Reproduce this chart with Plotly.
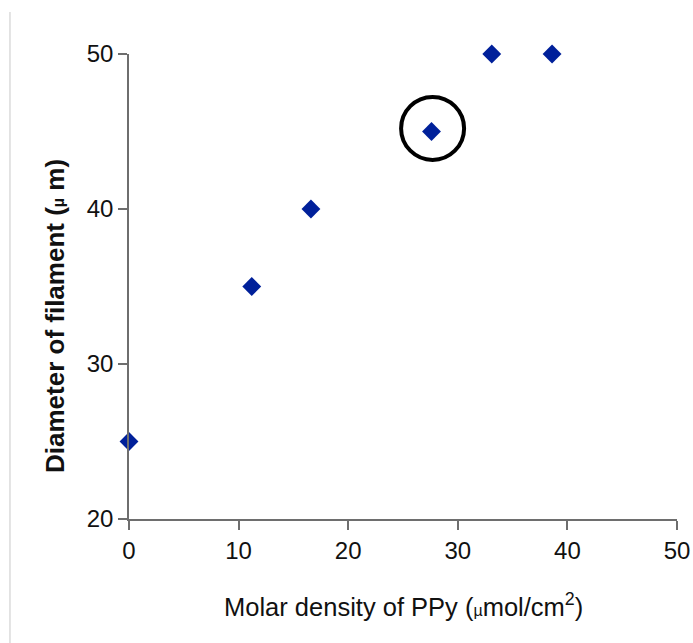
import plotly.graph_objects as go

molar_density = [0, 11.2, 16.6, 27.6, 33.1, 38.6]
diameter = [25, 35, 40, 45, 50, 50]
x_ticks = [0, 10, 20, 30, 40, 50]
y_ticks = [20, 30, 40, 50]

fig = go.Figure()
fig.add_trace(go.Scatter(
    x=molar_density, y=diameter, mode="markers",
    marker=dict(symbol="diamond", size=14.5, color="#00209A"),
    cliponaxis=False, showlegend=False,
))

axis_common = dict(
    showgrid=False, zeroline=False, showline=True, linecolor="#6e6e6e", linewidth=1.5,
    ticks="outside", ticklen=9, tickcolor="#6e6e6e", tickwidth=1.5, automargin=False,
    tickfont=dict(family="Liberation Sans, Arial", size=24, color="#111"),
)

fig.update_layout(
    width=693, height=643,
    margin=dict(l=129, r=16, t=54, b=124),
    paper_bgcolor="white", plot_bgcolor="white",
    xaxis=dict(range=[0, 50], tickvals=x_ticks, **axis_common),
    yaxis=dict(range=[20, 50], tickvals=y_ticks, **axis_common),
    annotations=[
        dict(text="Molar density of PPy (<span style='font-size:16px'>µ</span>mol/cm<sup>2</sup>)",
             xref="paper", yref="paper", x=0.5, y=-0.185, xanchor="center", yanchor="middle",
             showarrow=False, font=dict(family="Liberation Sans, Arial", size=25.5, color="#111")),
        dict(text="<b>Diameter of filament (<span style='font-size:16px'>µ</span> m)</b>",
             xref="paper", yref="paper", x=-0.135, y=0.4366, xanchor="center", yanchor="middle",
             textangle=-90, showarrow=False,
             font=dict(family="Liberation Sans, Arial", size=26, color="#111")),
    ],
    shapes=[
        dict(type="circle", xref="x", yref="y", xsizemode="pixel", ysizemode="pixel",
             xanchor=27.7, yanchor=45.2, x0=-31.5, x1=31.5, y0=-31.5, y1=31.5,
             line=dict(color="black", width=4)),
        dict(type="line", xref="paper", yref="paper",
             x0=-0.2172, x1=-0.2172, y0=1.0903, y1=-0.27,
             line=dict(color="#c8c8c8", width=1)),
    ],
)

fig.write_html("out.html", config={"displayModeBar": False},
               post_script="document.body.style.margin='0';document.body.style.overflow='hidden';")
